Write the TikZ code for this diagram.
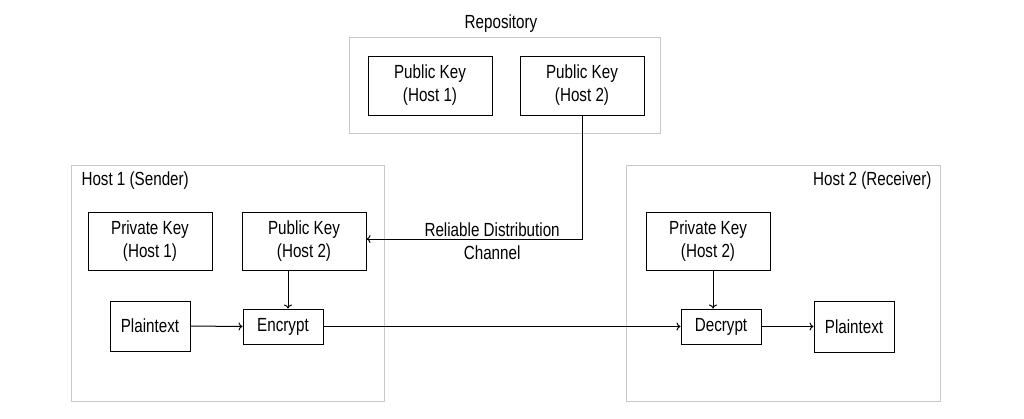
\documentclass[tikz,border=0pt]{standalone}
\usepackage{fontspec}
\setmainfont{Liberation Sans}[FakeStretch=0.8]
\usetikzlibrary{arrows.meta}
\definecolor{framegray}{RGB}{200,200,200}
\begin{document}
\begin{tikzpicture}[x=1pt,y=-1pt,
  every node/.style={font=\fontsize{19}{23}\selectfont},
  group/.style={draw=framegray,line width=1pt,inner sep=0pt},
  box/.style={draw=black,line width=1pt,align=center,inner sep=0pt},
  conn/.style={line width=1pt,-{To[length=4pt,width=8pt]}}]
\useasboundingbox (0,0) rectangle (1024,418);
% groups
\node[group,minimum width=311,minimum height=96] (repo) at (504.5,85) {};
\node[anchor=south] (repol) at (501,36) {Repository};
\node[group,minimum width=313,minimum height=236] (h1) at (227.5,283) {};
\node[anchor=west] (h1l) at (78,181) {Host 1 (Sender)};
\node[group,minimum width=314,minimum height=236] (h2) at (783,283) {};
\node[anchor=east] (h2l) at (935,181) {Host 2 (Receiver)};
% boxes
\node[box,minimum width=124,minimum height=59] (pk1r) at (430,85.5) {Public Key\\(Host 1)};
\node[box,minimum width=124,minimum height=59] (pk2r) at (582,85.5) {Public Key\\(Host 2)};
\node[box,minimum width=124,minimum height=58] (sk1) at (150,241) {Private Key\\(Host 1)};
\node[box,minimum width=124,minimum height=58] (pk2) at (304,241) {Public Key\\(Host 2)};
\node[box,minimum width=80,minimum height=50] (pt1) at (150,326) {Plaintext};
\node[box,minimum width=80,minimum height=35] (enc) at (283,326.5) {Encrypt};
\node[box,minimum width=124,minimum height=58] (sk2) at (708,241) {Private Key\\(Host 2)};
\node[box,minimum width=80,minimum height=35] (dec) at (721,326.5) {Decrypt};
\node[box,minimum width=80,minimum height=51] (pt2) at (854,326.5) {Plaintext};
% connectors
\coordinate (bend) at (582,239);
\draw[conn] (pk2r.south) -- (bend) -- (pk2.east |- bend)
  node[pos=0.417,align=center,yshift=-2pt] (chl) {Reliable Distribution\\Channel};
\draw[conn] (pt1.east) -- (enc.west);
\draw[conn] (pk2.south -| 288,0) -- (enc.north -| 288,0);
\draw[conn] (enc.east) -- (dec.west);
\draw[conn] (sk2.south -| 713,0) -- (dec.north -| 713,0);
\draw[conn] (dec.east) -- (pt2.west);
\end{tikzpicture}
\end{document}
